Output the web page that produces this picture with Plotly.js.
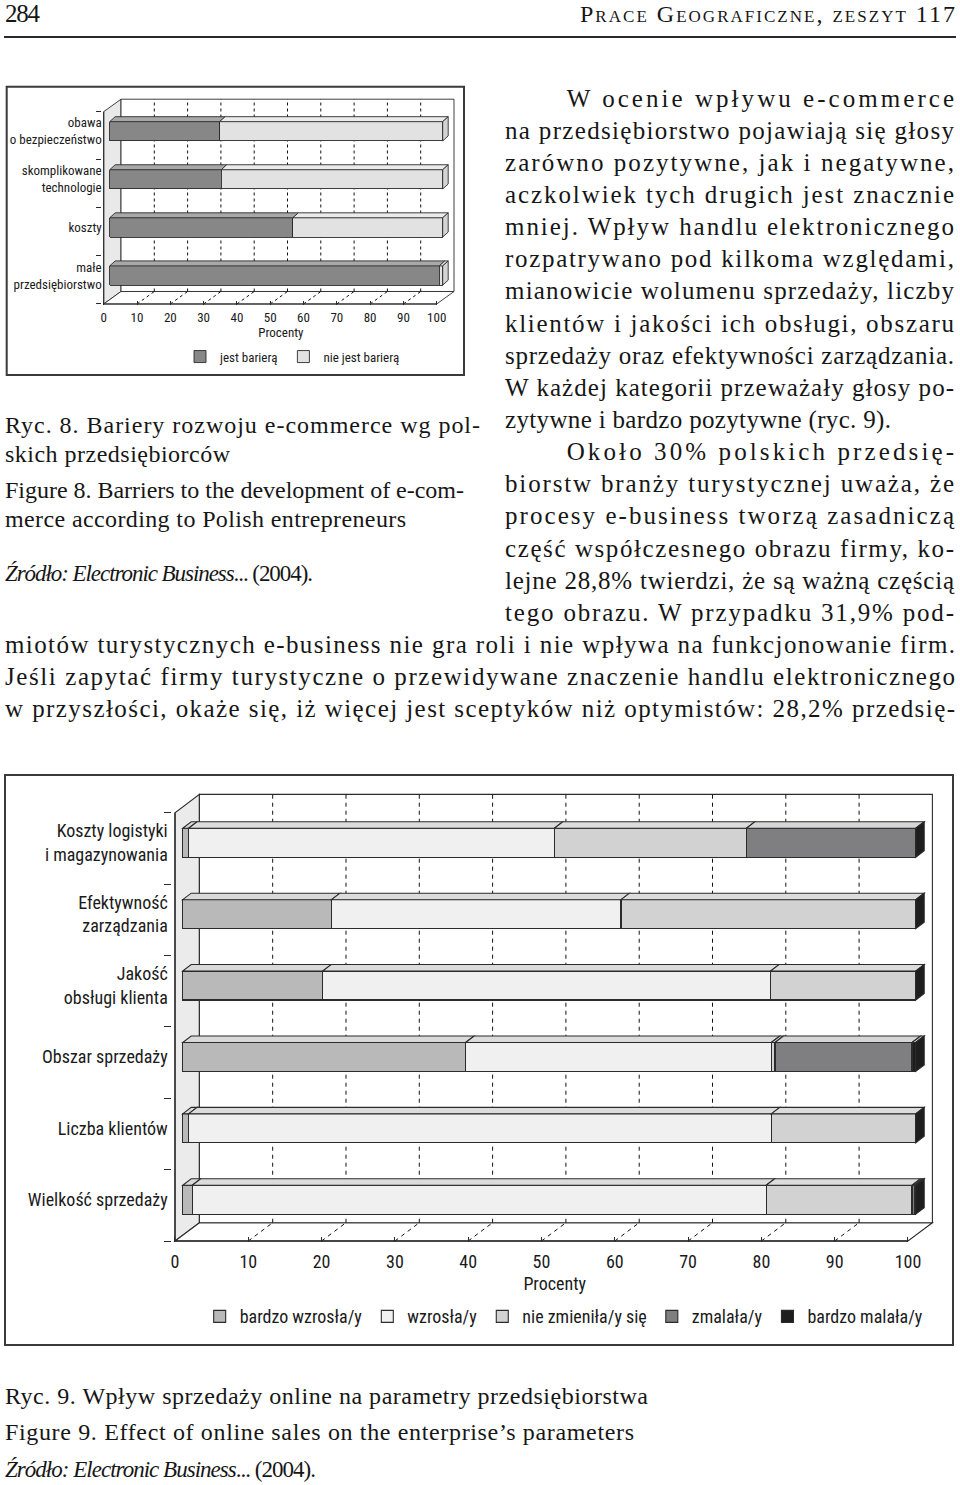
<!DOCTYPE html>
<html><head><meta charset="utf-8">
<script src="https://cdn.plot.ly/plotly-3.0.1.min.js"></script>
<style>
html,body{margin:0;padding:0;background:#fff;}
#page{position:relative;width:960px;height:1485px;overflow:hidden;background:#fff;}
#txt{position:absolute;left:0;top:0;}
#chart1{position:absolute;left:0;top:80px;width:480px;height:300px;}
#chart2{position:absolute;left:0;top:770px;width:960px;height:580px;}
</style></head>
<body><div id="page"><svg id="txt" width="960" height="1485" xmlns="http://www.w3.org/2000/svg"></svg><div id="chart1"></div><div id="chart2"></div></div>
<script>
// ---------------- DATA ----------------
const xTicks = [0, 10, 20, 30, 40, 50, 60, 70, 80, 90, 100];
const axisTitle = 'Procenty';

// Ryc. 8
const barriers = ['obawa<br>o bezpieczeństwo', 'skomplikowane<br>technologie', 'koszty', 'małe<br>przedsiębiorstwo'];
const barrierSeries = ['jest barierą', 'nie jest barierą'];
const isBarrier = [33, 33.5, 55, 99];
const notBarrier = [67, 66.5, 45, 1];

// Ryc. 9
const params = ['Koszty logistyki<br>i magazynowania', 'Efektywność<br>zarządzania', 'Jakość<br>obsługi klienta', 'Obszar sprzedaży', 'Liczba klientów', 'Wielkość sprzedaży'];
const effectSeries = ['bardzo wzrosła/y', 'wzrosła/y', 'nie zmieniła/y się', 'zmalała/y', 'bardzo malała/y'];
const veryIncreased = [0.8, 20.3, 19.1, 38.6, 0.8, 1.3];
const increased = [49.9, 39.5, 61.1, 41.7, 79.5, 78.3];
const unchanged = [26.2, 40.2, 19.8, 0.5, 19.7, 19.9];
const decreased = [23.1, 0, 0, 18.7, 0, 0.3];
const veryDecreased = [0, 0, 0, 0.5, 0, 0.2];

// Page text
const pageNumber = '284';
const runningHead = 'Prace Geograficzne, zeszyt 117';
const bodyLines = [
 'W ocenie wpływu e-commerce',
 'na przedsiębiorstwo pojawiają się głosy',
 'zarówno pozytywne, jak i negatywne,',
 'aczkolwiek tych drugich jest znacznie',
 'mniej. Wpływ handlu elektronicznego',
 'rozpatrywano pod kilkoma względami,',
 'mianowicie wolumenu sprzedaży, liczby',
 'klientów i jakości ich obsługi, obszaru',
 'sprzedaży oraz efektywności zarządzania.',
 'W każdej kategorii przeważały głosy po-',
 'zytywne i bardzo pozytywne (ryc. 9).',
 'Około 30% polskich przedsię-',
 'biorstw branży turystycznej uważa, że',
 'procesy e-business tworzą zasadniczą',
 'część współczesnego obrazu firmy, ko-',
 'lejne 28,8% twierdzi, że są ważną częścią',
 'tego obrazu. W przypadku 31,9% pod-',
 'miotów turystycznych e-business nie gra roli i nie wpływa na funkcjonowanie firm.',
 'Jeśli zapytać firmy turystyczne o przewidywane znaczenie handlu elektronicznego',
 'w przyszłości, okaże się, iż więcej jest sceptyków niż optymistów: 28,2% przedsię-'
];
const fig8Caption = ['Ryc. 8. Bariery rozwoju e-commerce wg pol-', 'skich przedsiębiorców'];
const fig8CaptionEn = ['Figure 8. Barriers to the development of e-com-', 'merce according to Polish entrepreneurs'];
const sourceNote = ['Źródło: Electronic Business', '... (2004).'];
const fig9Caption = 'Ryc. 9. Wpływ sprzedaży online na parametry przedsiębiorstwa';
const fig9CaptionEn = 'Figure 9. Effect of online sales on the enterprise’s parameters';

// ---------------- PAGE TEXT ----------------
const SERIF = "'Liberation Serif', 'Times New Roman', 'DejaVu Serif', serif";
const NS = 'http://www.w3.org/2000/svg';
const svg = document.getElementById('txt');
function addText(str, x, y, o) {
  o = o || {};
  const t = document.createElementNS(NS, 'text');
  t.setAttribute('x', x); t.setAttribute('y', y);
  t.setAttribute('font-family', SERIF);
  t.setAttribute('font-size', o.size || 25);
  t.setAttribute('fill', '#161616');
  if (o.style) t.setAttribute('style', o.style);
  if (o.parts) {
    o.parts.forEach(p => {
      const ts = document.createElementNS(NS, 'tspan');
      if (p.italic) ts.setAttribute('font-style', 'italic');
      ts.textContent = p.t; t.appendChild(ts);
    });
  } else t.textContent = str;
  if (o.w) { t.setAttribute('textLength', o.w); t.setAttribute('lengthAdjust', 'spacing'); }
  svg.appendChild(t);
}
function addRule(x, y, w, h) {
  const r = document.createElementNS(NS, 'rect');
  r.setAttribute('x', x); r.setAttribute('y', y); r.setAttribute('width', w); r.setAttribute('height', h);
  r.setAttribute('fill', '#2a2a2a'); svg.appendChild(r);
}
addText(pageNumber, 5, 22, {size: 25, w: 35});
addText(runningHead, 580, 22, {size: 24, w: 375, style: 'font-variant: small-caps'});
addRule(4, 36, 952, 2);

const bodyTop = 106.5, bodyStep = 32.15;
bodyLines.forEach((s, i) => {
  let x0 = i >= 17 ? 5 : 505; if (i === 0 || i === 11) x0 = 566.7;
  let x1 = i >= 17 ? 955 : 954; if (i === 10) x1 = 891;
  addText(s, x0, bodyTop + i * bodyStep, {w: x1 - x0});
});
addText(fig8Caption[0], 5, 433.3, {size: 24, w: 475});
addText(fig8Caption[1], 5, 461.7, {size: 24, w: 225});
addText(fig8CaptionEn[0], 5, 498.3, {size: 24, w: 459});
addText(fig8CaptionEn[1], 5, 526.7, {size: 24, w: 401});
addText('', 5, 580.7, {size: 23, w: 308, parts: [{t: sourceNote[0], italic: true}, {t: sourceNote[1]}]});
addText(fig9Caption, 5, 1404, {size: 24, w: 643});
addText(fig9CaptionEn, 5, 1440, {size: 24, w: 629});
addText('', 5, 1477, {size: 23, w: 311, parts: [{t: sourceNote[0], italic: true}, {t: sourceNote[1]}]});

// ---------------- 3D-LOOK STACKED BAR CHART ----------------
const SANS = "'Liberation Sans Narrow', 'Arial Narrow', 'Roboto Condensed', 'DejaVu Sans Condensed', 'Liberation Sans', sans-serif";

function build3D(divId, g, cats, series) {
  const n = cats.length;
  const sx = (g.fx100 - g.fx0) / 100;
  const sy = (g.fyBottom - g.fyTop) / n;
  const xr = [-g.padL, 100 + g.padR];
  const yr = [-0.5 - g.padB, n - 0.5 + g.padT];
  const xdom = [(g.fx0 + xr[0] * sx) / g.W, (g.fx0 + xr[1] * sx) / g.W];
  const ydom = [(g.H - (g.fyBottom + g.padB * sy)) / g.H, (g.H - (g.fyTop - g.padT * sy)) / g.H];
  const x2dom = xdom.map(v => v + g.barDx / g.W);
  const y2dom = ydom.map(v => v + g.barDy / g.H);
  const DX = g.depthX / sx, DY = g.depthY / sy;
  const BDX = g.bDepthX / sx, BDY = g.bDepthY / sy;
  const b = -0.5, t = n - 0.5;
  const L = g.lineColor;

  const traces = series.map(s => ({
    type: 'bar', orientation: 'h', name: s.name, x: s.values, y: cats,
    xaxis: 'x2', yaxis: 'y2', width: g.barW,
    marker: {color: s.color, line: {color: L, width: g.lineW}},
    hoverinfo: 'skip'
  }));

  const shapes = [];
  const P = (d, fill) => ({type: 'path', path: d, xref: 'x', yref: 'y', layer: 'below',
    fillcolor: fill, line: {color: L, width: g.lineW}});
  // left wall, floor, back wall
  shapes.push(P(`M0,${b} L${DX},${b + DY} L${DX},${t + DY} L0,${t} Z`, g.wallColor));
  shapes.push(P(`M0,${b} L100,${b} L${100 + DX},${b + DY} L${DX},${b + DY} Z`, '#ffffff'));
  shapes.push({type: 'rect', xref: 'x', yref: 'y', layer: 'below', x0: DX, x1: 100 + DX, y0: b + DY, y1: t + DY,
    fillcolor: '#ffffff', line: {color: L, width: g.lineW}});
  xTicks.filter(v => v > 0 && v < 100).forEach(v => {
    shapes.push({type: 'line', xref: 'x', yref: 'y', layer: 'below', x0: v + DX, x1: v + DX, y0: b + DY, y1: t + DY,
      line: {color: '#111', width: 1, dash: g.dash}});
    shapes.push({type: 'line', xref: 'x', yref: 'y', layer: 'below', x0: v, x1: v + DX, y0: b, y1: b + DY,
      line: {color: '#111', width: 1, dash: g.dash}});
  });
  shapes.push({type: 'line', xref: 'x', yref: 'y', layer: 'below', x0: 0, x1: 0, y0: b, y1: t, line: {color: L, width: g.lineW * 1.2}});
  shapes.push({type: 'line', xref: 'x', yref: 'y', layer: 'below', x0: 0, x1: 100, y0: b, y1: b, line: {color: L, width: g.lineW * 1.2}});

  // bar top faces and right side face
  cats.forEach((c, i) => {
    const p = n - 1 - i;
    const top = p + g.barW / 2, bot = p - g.barW / 2;
    let cum = 0;
    series.forEach(s => {
      const v = s.values[i];
      if (v > 0) {
        const e = cum + v;
        shapes.push({type: 'path', xref: 'x2', yref: 'y2', layer: 'above',
          path: `M${cum},${top} L${e},${top} L${e + BDX},${top + BDY} L${cum + BDX},${top + BDY} Z`,
          fillcolor: s.topColor, line: {color: L, width: g.lineW}});
        cum = e;
      }
    });
    shapes.push({type: 'path', xref: 'x2', yref: 'y2', layer: 'above',
      path: `M${cum},${bot} L${cum},${top} L${cum + BDX},${top + BDY} L${cum + BDX},${bot + BDY} Z`,
      fillcolor: g.sideColor, line: {color: L, width: g.lineW}});
  });
  // frame
  shapes.push({type: 'rect', xref: 'paper', yref: 'paper', layer: 'below',
    x0: g.frame[0] / g.W, x1: g.frame[2] / g.W, y0: 1 - g.frame[3] / g.H, y1: 1 - g.frame[1] / g.H,
    line: {color: '#3a3a3a', width: 2}, fillcolor: 'rgba(0,0,0,0)'});

  const font = {family: SANS, size: g.fontSize, color: '#1a1a1a'};
  const layout = {
    width: g.W, height: g.H, margin: {l: 0, r: 0, t: 0, b: 0},
    paper_bgcolor: 'rgba(0,0,0,0)', plot_bgcolor: 'rgba(0,0,0,0)',
    barmode: 'stack', font: font, showlegend: true,
    xaxis: {domain: xdom, range: xr, anchor: 'y', tickmode: 'array', tickvals: xTicks,
      ticks: 'inside', ticklen: g.xTickLen, tickcolor: L, tickwidth: 1,
      showgrid: false, zeroline: false, showline: false, tickfont: font,
      ticklabelstandoff: g.xLabelStandoff,
      title: {text: axisTitle, font: font, standoff: g.titleStandoff}},
    yaxis: {domain: ydom, range: yr, anchor: 'x', tickmode: 'array',
      tickvals: cats.map((c, i) => i - 0.5).concat([n - 0.5]),
      ticks: 'outside', ticklen: g.yTickLen, tickcolor: L, tickwidth: 1,
      showticklabels: false, showgrid: false, zeroline: false, showline: false},
    xaxis2: {domain: x2dom, range: xr, anchor: 'y2', visible: false},
    yaxis2: {domain: y2dom, range: yr, anchor: 'x2', type: 'category', categoryorder: 'array',
      categoryarray: cats.slice().reverse(), ticks: '', ticklabelstandoff: g.catStandoff,
      tickfont: font, showgrid: false, zeroline: false, showline: false},
    legend: {orientation: 'h', x: g.legendX, y: g.legendY, xanchor: 'left', yanchor: 'middle',
      font: font, traceorder: 'normal', bgcolor: 'rgba(0,0,0,0)'},
    shapes: shapes
  };
  Plotly.newPlot(divId, traces, layout, {staticPlot: true, displayModeBar: false});
}

build3D('chart1', {
  W: 480, H: 300, fx0: 103.7, fx100: 436.7, fyBottom: 224, fyTop: 31.7,
  padL: 0.6, padR: 7, padB: 0.02, padT: 0.3,
  depthX: 17.3, depthY: 12.5, barDx: 6.0, barDy: 4.45, bDepthX: 5.5, bDepthY: 5, barW: 0.40,
  lineColor: '#2b2b2b', lineW: 0.9, wallColor: '#e9e9e9', sideColor: '#d4d4d4', dash: '3px,3px',
  fontSize: 13, xTickLen: 4, yTickLen: 5, xLabelStandoff: 3, titleStandoff: 3, catStandoff: 5,
  legendX: 0.375, legendY: 0.078, frame: [6.7, 6.7, 464, 295]
}, barriers, [
  {name: barrierSeries[0], values: isBarrier, color: '#878787', topColor: '#a8a8a8'},
  {name: barrierSeries[1], values: notBarrier, color: '#e2e2e2', topColor: '#ebebeb'}
]);

build3D('chart2', {
  W: 960, H: 580, fx0: 175, fx100: 908, fyBottom: 471, fyTop: 42.7,
  padL: 0.4, padR: 4, padB: 0.02, padT: 0.3,
  depthX: 24.4, depthY: 18.3, barDx: 7.7, barDy: 5.6, bDepthX: 8.5, bDepthY: 6.5, barW: 0.406,
  lineColor: '#2b2b2b', lineW: 1.1, wallColor: '#ebebeb', sideColor: '#1e1e1e', dash: '4px,4px',
  fontSize: 18, xTickLen: 5, yTickLen: 7, xLabelStandoff: 7, titleStandoff: 5, catStandoff: 11,
  legendX: 0.208, legendY: 0.0574, frame: [5, 5, 953, 575]
}, params, [
  {name: effectSeries[0], values: veryIncreased, color: '#b9b9b9', topColor: '#d9d9d9'},
  {name: effectSeries[1], values: increased, color: '#f0f0f0', topColor: '#dcdcdc'},
  {name: effectSeries[2], values: unchanged, color: '#d2d2d2', topColor: '#dcdcdc'},
  {name: effectSeries[3], values: decreased, color: '#7f7f82', topColor: '#d6d6d6'},
  {name: effectSeries[4], values: veryDecreased, color: '#1e1e1e', topColor: '#d0d0d0'}
]);
</script>
</body></html>
